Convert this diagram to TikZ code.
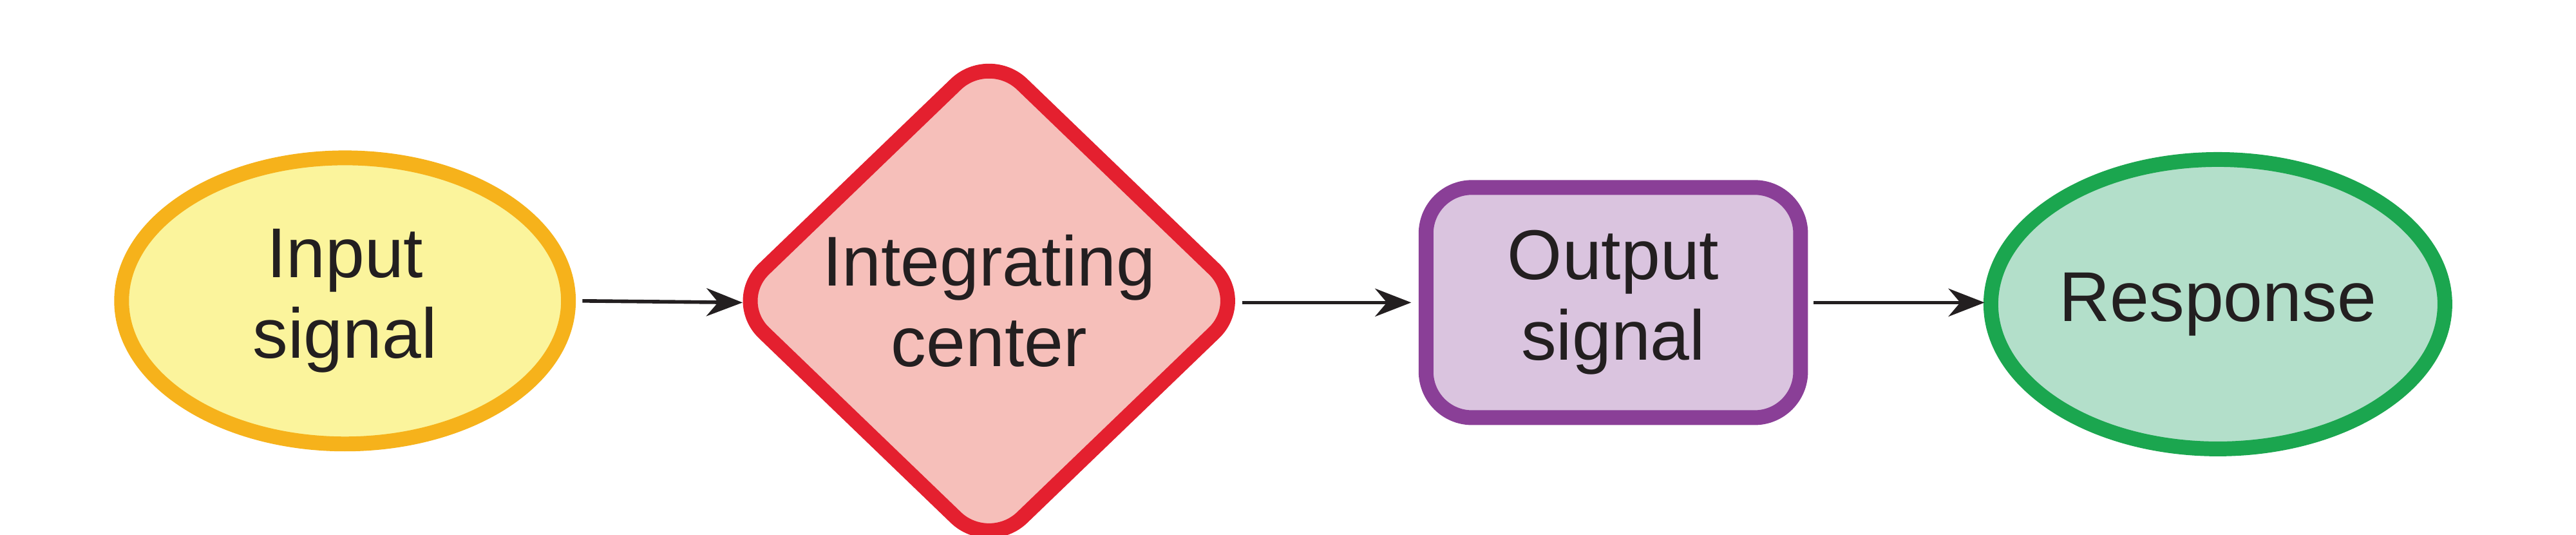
\documentclass[tikz,border=0pt]{standalone}
\usepackage{fontspec}
\setmainfont{Liberation Sans}
\usetikzlibrary{shapes.geometric,arrows.meta}
\definecolor{oy}{HTML}{F6B21B}\definecolor{fy}{HTML}{FBF49C}
\definecolor{rd}{HTML}{E4202F}\definecolor{fr}{HTML}{F6BFBA}
\definecolor{pu}{HTML}{8A3F97}\definecolor{fp}{HTML}{DAC4DF}
\definecolor{gr}{HTML}{1BA64F}\definecolor{fg}{HTML}{B3DFCA}
\definecolor{ar}{HTML}{231F20}
\begin{document}
\begin{tikzpicture}[x=1mm,y=1mm,
  lbl/.style={font=\fontsize{122}{140}\selectfont, align=center, text=ar, line width=9mm},
  con/.style={draw=ar, line width=2.2mm, -{Stealth[length=22mm,width=17mm]}}]
\useasboundingbox (0,0) rectangle (1568,325);
\node[lbl, ellipse, draw=oy, fill=fy, minimum width=272mm, minimum height=174mm] (in) at (210,142) {Input\\signal};
\node[lbl, diamond, draw=rd, fill=fr, rounded corners=28mm, minimum width=318mm, minimum height=306mm] (ic) at (602,142) {Integrating\\center};
\node[lbl, rectangle, rounded corners=28mm, draw=pu, fill=fp, minimum width=228mm, minimum height=140mm] (out) at (982,141) {Output\\signal};
\node[lbl, ellipse, draw=gr, fill=fg, minimum width=272mm, minimum height=176mm] (re) at (1350,140) {Response};
\draw[con] (in.east) ++(4,0) coordinate (a1) -- (452,141) coordinate (a2);
\draw[con] (756,141) -- (859,141);
\draw[con] (1104,141) -- (1208,141);
\end{tikzpicture}
\end{document}
